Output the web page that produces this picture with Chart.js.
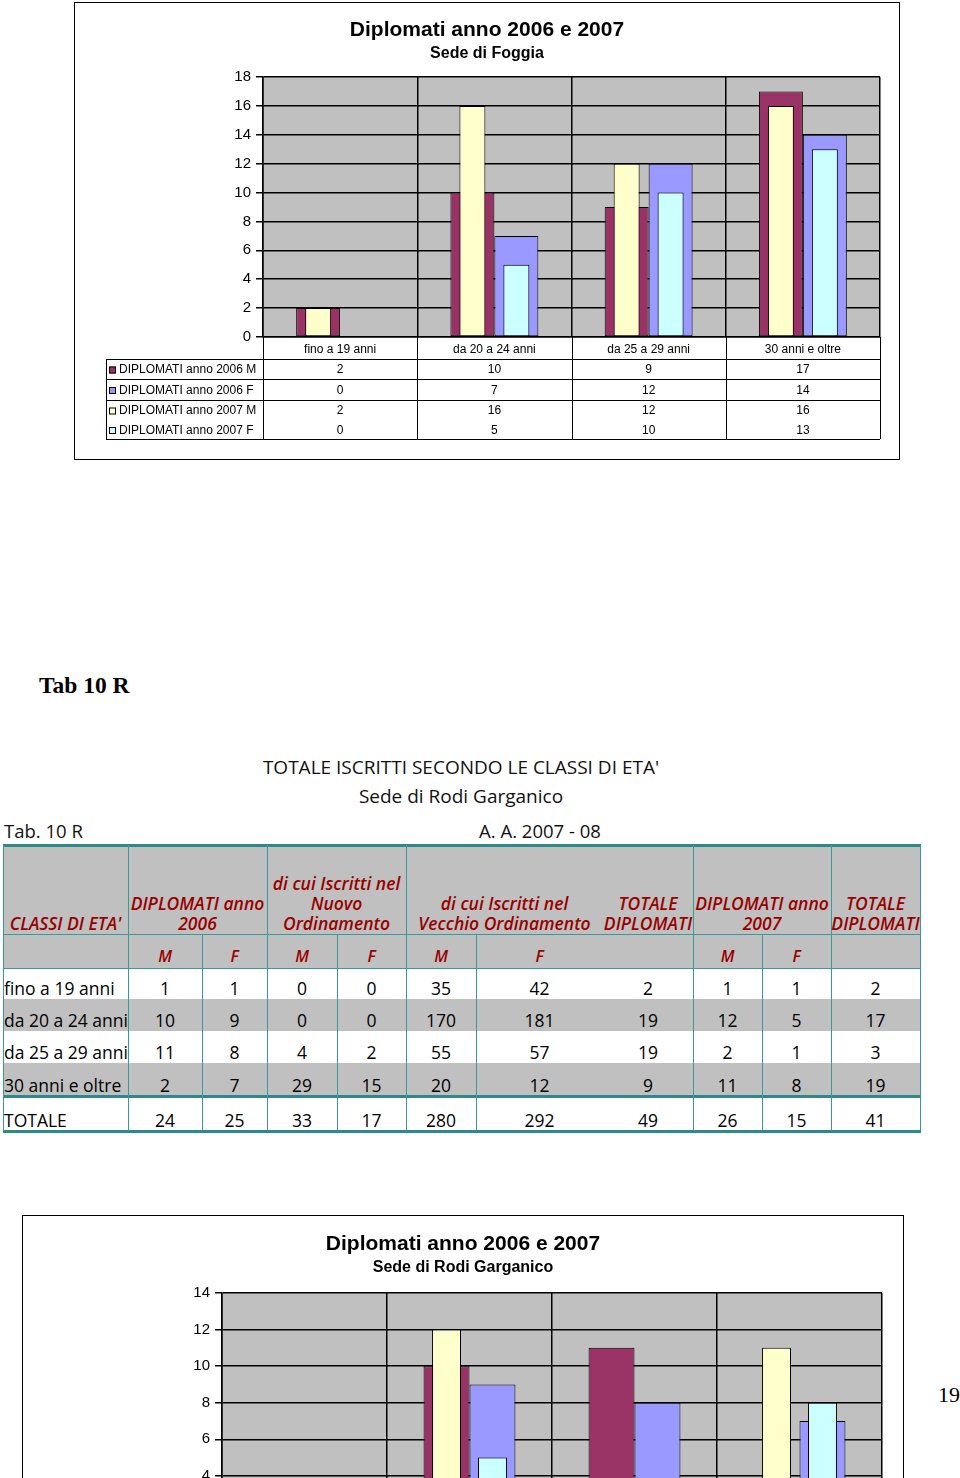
<!DOCTYPE html>
<html><head><meta charset="utf-8">
<script src="https://cdn.jsdelivr.net/npm/chart.js@4.4.0/dist/chart.umd.min.js"></script>
<style>
html,body{margin:0;padding:0;background:#fff;}
body{width:960px;height:1478px;overflow:hidden;position:relative;font-family:"Open Sans",sans-serif;color:#111;}
.box{position:absolute;border:1px solid #000;background:#fff;box-sizing:border-box;}
.box canvas{position:absolute;left:0;top:0;}
.abs{position:absolute;white-space:nowrap;}
.serif{font-family:"Liberation Serif","Times New Roman",serif;}
</style></head><body>
<div class="box" style="left:74px;top:2px;width:826px;height:458px;"><canvas id="c1" width="824" height="456"></canvas></div>
<div class="box" style="left:22px;top:1215px;width:882px;height:460px;"><canvas id="c2" width="880" height="458"></canvas></div>
<script>
// ---------- DATA ----------
const chartTitle = 'Diplomati anno 2006 e 2007';
const seriesNames = ['DIPLOMATI anno 2006 M','DIPLOMATI anno 2006 F','DIPLOMATI anno 2007 M','DIPLOMATI anno 2007 F'];
const ageClassesChart = ['fino a 19 anni','da 20 a 24 anni','da 25 a 29 anni','30 anni e oltre'];

// Sede di Foggia
const foggia2006M = [2, 10, 9, 17];
const foggia2006F = [0, 7, 12, 14];
const foggia2007M = [2, 16, 12, 16];
const foggia2007F = [0, 5, 10, 13];
const foggiaTicks = [0, 2, 4, 6, 8, 10, 12, 14, 16, 18];

// Sede di Rodi Garganico
const rodi2006M = [1, 10, 11, 2];
const rodi2006F = [1, 9, 8, 7];
const rodi2007M = [1, 12, 2, 11];
const rodi2007F = [1, 5, 1, 8];
const rodiTicks = [0, 2, 4, 6, 8, 10, 12, 14];

// Tab. 10 R table
const tableRowLabels = ['fino a 19 anni','da 20 a 24 anni','da 25 a 29 anni','30 anni e oltre','TOTALE'];
const nuovoM = [0, 0, 4, 29, 33];
const nuovoF = [0, 0, 2, 15, 17];
const vecchioM = [35, 170, 55, 20, 280];
const vecchioF = [42, 181, 57, 12, 292];
const totDip2006 = [2, 19, 19, 9, 49];
const dip2006M = [1, 10, 11, 2, 24];
const dip2006F = [1, 9, 8, 7, 25];
const dip2007M = [1, 12, 2, 11, 26];
const dip2007F = [1, 5, 1, 8, 15];
const totDip2007 = [2, 17, 3, 19, 41];

const colors = ['#993366', '#9999FF', '#FFFFCC', '#CCFFFF'];

// ---------- CHART PLUGINS ----------
const bgPlugin = {
  id: 'plotBg',
  beforeDraw(chart) {
    const a = chart.chartArea, ctx = chart.ctx;
    ctx.save(); ctx.fillStyle = '#C0C0C0';
    ctx.fillRect(a.left, a.top, a.right - a.left, a.bottom - a.top);
    ctx.restore();
  }
};
const titlesPlugin = {
  id: 'titles',
  afterDraw(chart, args, o) {
    const ctx = chart.ctx;
    ctx.save(); ctx.fillStyle = '#000'; ctx.textAlign = 'center'; ctx.textBaseline = 'middle';
    ctx.font = 'bold 21px "Liberation Sans", Arial, sans-serif';
    ctx.fillText(o.title, chart.width / 2, o.titleY);
    ctx.font = 'bold 16px "Liberation Sans", Arial, sans-serif';
    ctx.fillText(o.subtitle, chart.width / 2, o.subY);
    ctx.restore();
  }
};
const tablePlugin = {
  id: 'dataTable',
  afterDraw(chart, args, o) {
    const ctx = chart.ctx, xs = chart.scales.x, a = chart.chartArea;
    const n = chart.data.labels.length;
    const bounds = [];
    for (let i = 0; i <= n; i++) {
      if (i === 0) bounds.push(a.left);
      else if (i === n) bounds.push(a.right);
      else bounds.push((xs.getPixelForValue(i - 1) + xs.getPixelForValue(i)) / 2);
    }
    const rowTops = [a.bottom + o.labelRowH];
    o.rowH.forEach(h => rowTops.push(rowTops[rowTops.length - 1] + h));
    const bottom = rowTops[rowTops.length - 1];
    const L = o.legendLeft;
    ctx.save();
    ctx.strokeStyle = '#000'; ctx.lineWidth = 1;
    ctx.beginPath();
    bounds.forEach(b => { const bx = Math.round(b) + 0.5; ctx.moveTo(bx, a.bottom); ctx.lineTo(bx, bottom); });
    ctx.moveTo(L + 0.5, rowTops[0]); ctx.lineTo(L + 0.5, bottom);
    rowTops.forEach((t, i) => {
      if (o.skipLines.includes(i)) return;
      const ty = Math.round(t) + 0.5; ctx.moveTo(L, ty); ctx.lineTo(a.right, ty);
    });
    ctx.stroke();
    ctx.font = '12px "Liberation Sans", Arial, sans-serif';
    ctx.textBaseline = 'middle';
    chart.data.datasets.forEach((ds, r) => {
      const cy = (rowTops[r] + rowTops[r + 1]) / 2 + 1;
      ctx.fillStyle = ds.backgroundColor; ctx.fillRect(L + 3, cy - 3.5, 7, 7);
      ctx.strokeStyle = '#000'; ctx.strokeRect(L + 3.5, cy - 3, 6, 6);
      ctx.fillStyle = '#000'; ctx.textAlign = 'left';
      ctx.fillText(ds.label, L + 13, cy);
      ctx.textAlign = 'center';
      ds.data.forEach((v, i) => {
        ctx.fillText(String(v), (bounds[i] + bounds[i + 1]) / 2, cy);
      });
    });
    ctx.restore();
  }
};

function makeChart(id, d, p) {
  const common = { borderColor: '#000', borderWidth: 1, borderSkipped: false, categoryPercentage: p.cat };
  new Chart(document.getElementById(id), {
    type: 'bar',
    data: {
      labels: ageClassesChart,
      datasets: [
        Object.assign({ label: seriesNames[0], data: d[0], backgroundColor: colors[0], stack: 'M', order: 2, barPercentage: 1 }, common),
        Object.assign({ label: seriesNames[1], data: d[1], backgroundColor: colors[1], stack: 'F', order: 2, barPercentage: 1 }, common),
        Object.assign({ label: seriesNames[2], data: d[2], backgroundColor: colors[2], stack: 'M', order: 1, barPercentage: p.narrow }, common),
        Object.assign({ label: seriesNames[3], data: d[3], backgroundColor: colors[3], stack: 'F', order: 1, barPercentage: p.narrow }, common)
      ]
    },
    options: {
      responsive: false, animation: false, devicePixelRatio: 1,
      layout: { padding: { left: 0, right: p.padRight, top: p.plotTop, bottom: 0 } },
      plugins: {
        legend: { display: false }, tooltip: { enabled: false }, title: { display: false },
        titles: { title: chartTitle, subtitle: p.subtitle, titleY: p.titleY, subY: p.subY },
        dataTable: { labelRowH: 22, rowH: [20, 21, 20, 19], skipLines: [3], legendLeft: p.legendLeft }
      },
      scales: {
        x: {
          type: 'category', offset: true,
          grid: { display: true, offset: true, color: '#000', lineWidth: 1.5, drawTicks: false },
          border: { color: '#000', width: 1.5 },
          ticks: { color: '#000', padding: 5, font: { family: '"Liberation Sans", Arial, sans-serif', size: 12 }, maxRotation: 0, autoSkip: false },
          afterFit: s => { s.height = p.xHeight; }
        },
        y: {
          min: 0, max: p.max, stacked: false,
          afterBuildTicks: s => { s.ticks = p.ticks.map(v => ({ value: v })); },
          grid: { color: '#000', lineWidth: 1.5, drawTicks: true, tickLength: 7, tickColor: '#000' },
          border: { color: '#000', width: 1.5 },
          ticks: { color: '#000', padding: 5, font: { family: '"Liberation Sans", Arial, sans-serif', size: 15 } },
          afterFit: s => { s.width = p.plotLeft; }
        }
      }
    },
    plugins: [bgPlugin, titlesPlugin, tablePlugin]
  });
}

makeChart('c1', [foggia2006M, foggia2006F, foggia2007M, foggia2007F], {
  subtitle: 'Sede di Foggia', titleY: 27, subY: 51, plotTop: 74, plotLeft: 188, padRight: 19,
  xHeight: 456 - 334, max: 18, ticks: foggiaTicks, cat: 0.57, narrow: 0.59, legendLeft: 31
});
makeChart('c2', [rodi2006M, rodi2006F, rodi2007M, rodi2007F], {
  subtitle: 'Sede di Rodi Garganico', titleY: 28, subY: 52, plotTop: 77, plotLeft: 199, padRight: 21,
  xHeight: 458 - 333, max: 14, ticks: rodiTicks, cat: 0.557, narrow: 0.63, legendLeft: 31
});

// ---------- PAGE TEXT + TABLE ----------
function addDiv(style, html) {
  const d = document.createElement('div'); d.className = 'abs';
  Object.assign(d.style, style); if (html != null) d.innerHTML = html;
  document.body.appendChild(d); return d;
}
addDiv({ left: '39px', top: '670px', fontSize: '23.5px', fontWeight: 'bold', lineHeight: '30px', color: '#000' }, 'Tab 10 R').classList.add('serif');
addDiv({ left: '938px', top: '1381px', fontSize: '22px', lineHeight: '28px', color: '#000' }, '19').classList.add('serif');

addDiv({ left: '161px', width: '600px', textAlign: 'center', top: '754px', fontSize: '19px', lineHeight: '26px' }, "TOTALE ISCRITTI SECONDO LE CLASSI DI ETA'");
addDiv({ left: '161px', width: '600px', textAlign: 'center', top: '783px', fontSize: '19px', lineHeight: '26px' }, 'Sede di Rodi Garganico');
addDiv({ left: '4px', top: '818px', fontSize: '18.5px', lineHeight: '26px' }, 'Tab. 10 R');
addDiv({ left: '440px', width: '200px', textAlign: 'center', top: '818px', fontSize: '18.5px', lineHeight: '26px' }, 'A. A. 2007 - 08');

const rowsY = [845, 934, 968, 999, 1031, 1063, 1096, 1131];
const teal = '#3A9A9A';
addDiv({ left: '3px', top: '845px', width: '917px', height: '123px', background: '#C0C0C0' });
addDiv({ left: '3px', top: '999px', width: '917px', height: '32px', background: '#C0C0C0' });
addDiv({ left: '3px', top: '1063px', width: '917px', height: '33px', background: '#C0C0C0' });
function hline(y, w, color) { addDiv({ left: '3px', top: y + 'px', width: '918px', height: w + 'px', background: color }); }
hline(844, 3, '#2E8A8A'); hline(934, 1, teal); hline(968, 1, teal); hline(1095, 3, '#2E8A8A'); hline(1130, 3, '#2E8A8A');
function vline(x, y1, y2) { addDiv({ left: x + 'px', top: y1 + 'px', width: '1px', height: (y2 - y1) + 'px', background: teal }); }
[3, 128, 267, 406, 693, 831, 920].forEach(x => vline(x, 845, 1131));
[202, 337, 476, 762].forEach(x => vline(x, 934, 1131));

const hdrStyle = { color: '#990000', fontStyle: 'italic', fontWeight: '600', fontSize: '17.5px', lineHeight: '20px', textAlign: 'center' };
function hdr(x1, x2, lines) {
  addDiv(Object.assign({ left: x1 + 'px', width: (x2 - x1) + 'px', top: (933 - lines.length * 20) + 'px' }, hdrStyle), lines.join('<br>'));
}
hdr(3, 128, ["CLASSI DI ETA'"]);
hdr(128, 267, ['DIPLOMATI anno', '2006']);
hdr(267, 406, ['di cui Iscritti nel', 'Nuovo', 'Ordinamento']);
hdr(406, 603, ['di cui Iscritti nel', 'Vecchio Ordinamento']);
hdr(603, 693, ['TOTALE', 'DIPLOMATI']);
hdr(693, 831, ['DIPLOMATI anno', '2007']);
hdr(831, 920, ['TOTALE', 'DIPLOMATI']);
const mfCols = [[128, 202, 'M'], [202, 267, 'F'], [267, 337, 'M'], [337, 406, 'F'], [406, 476, 'M'], [476, 603, 'F'], [693, 762, 'M'], [762, 831, 'F']];
mfCols.forEach(([a, b, t]) => addDiv(Object.assign({}, hdrStyle, { left: a + 'px', width: (b - a) + 'px', top: '946px', fontSize: '16px' }), t));

const tableCols = [dip2006M, dip2006F, nuovoM, nuovoF, vecchioM, vecchioF, totDip2006, dip2007M, dip2007F, totDip2007];
const valueCells = [[128, 202], [202, 267], [267, 337], [337, 406], [406, 476], [476, 603], [603, 693], [693, 762], [762, 831], [831, 920]];
tableRowLabels.forEach((lab, r) => {
  const bottom = r === 4 ? 1131 : rowsY[r + 3];
  const top = bottom - 21;
  addDiv({ left: '4px', top: top + 'px', fontSize: '17.5px', lineHeight: '20px', color: '#000' }, lab);
  tableCols.forEach((col, c) => {
    const [a, b] = valueCells[c];
    addDiv({ left: a + 'px', width: (b - a) + 'px', textAlign: 'center', top: top + 'px', fontSize: '17.5px', lineHeight: '20px', color: '#000' }, String(col[r]));
  });
});
</script>
</body></html>
